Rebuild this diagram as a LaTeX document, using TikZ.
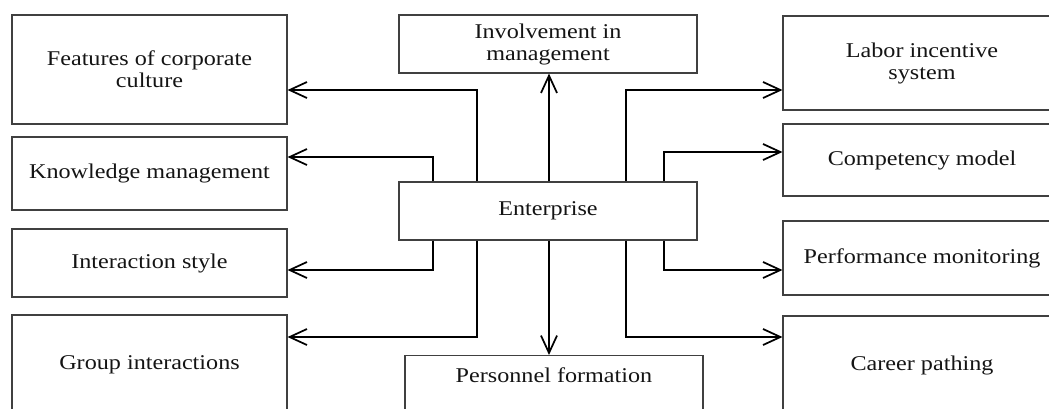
\documentclass[tikz,border=0pt]{standalone}
\usepackage{fontspec}
\setmainfont{Liberation Serif}[FakeStretch=1.15]
\usetikzlibrary{arrows.meta}
\begin{document}
\begin{tikzpicture}[x=0.75pt,y=-0.75pt,
  box/.style={draw=black!75, line width=0.8pt, rectangle, inner sep=0pt, align=center,
    font=\fontsize{15.75pt}{16.5pt}\selectfont, text=black!92},
  conn/.style={line width=1.3pt, -{Straight Barb[length=13pt,width=12pt]}}]
\useasboundingbox (0,0) rectangle (1049,408);
\clip (0,0) rectangle (1049,408);
% left column
\node[box, minimum width=275*0.75pt, minimum height=109*0.75pt] (L1) at (149.5,69.5) {Features of corporate\\culture};
\node[box, minimum width=275*0.75pt, minimum height=73*0.75pt] (L2) at (149.5,173.5) {Knowledge management};
\node[box, minimum width=275*0.75pt, minimum height=68*0.75pt] (L3) at (149.5,263) {Interaction style};
\node[box, minimum width=275*0.75pt, minimum height=100*0.75pt] (L4) at (149.5,365) {Group interactions};
% centre column
\node[box, minimum width=298*0.75pt, minimum height=58*0.75pt] (T) at (548,44) {Involvement in\\management};
\node[box, minimum width=298*0.75pt, minimum height=58*0.75pt] (E) at (548,211) {Enterprise};
\node[box, anchor=north, minimum width=298*0.75pt, text height=27*0.75pt, text depth=60*0.75pt] (B) at (554,355) {Personnel formation};
% right column
\node[box, minimum width=278*0.75pt, minimum height=94*0.75pt] (R1) at (922,63) {Labor incentive\\system};
\node[box, minimum width=278*0.75pt, minimum height=72*0.75pt] (R2) at (922,160) {Competency model};
\node[box, minimum width=278*0.75pt, minimum height=74*0.75pt] (R3) at (922,258) {Performance monitoring};
\node[box, minimum width=278*0.75pt, minimum height=98*0.75pt] (R4) at (922,365) {Career pathing};
% connectors
\draw[conn] (E.north -| 549,0) -- (T.south -| 549,0);
\draw[conn] (E.south -| 549,0) -- (B.north -| 549,0);
\draw[conn] (E.north -| 477,0) |- (L1.east |- 0,90);
\draw[conn] (E.north -| 433,0) |- (L2.east |- 0,157);
\draw[conn] (E.south -| 433,0) |- (L3.east |- 0,270);
\draw[conn] (E.south -| 477,0) |- (L4.east |- 0,337);
\draw[conn] (E.north -| 626,0) |- (R1.west |- 0,90);
\draw[conn] (E.north -| 664,0) |- (R2.west |- 0,152);
\draw[conn] (E.south -| 664,0) |- (R3.west |- 0,270);
\draw[conn] (E.south -| 626,0) |- (R4.west |- 0,337);
\end{tikzpicture}
\end{document}
